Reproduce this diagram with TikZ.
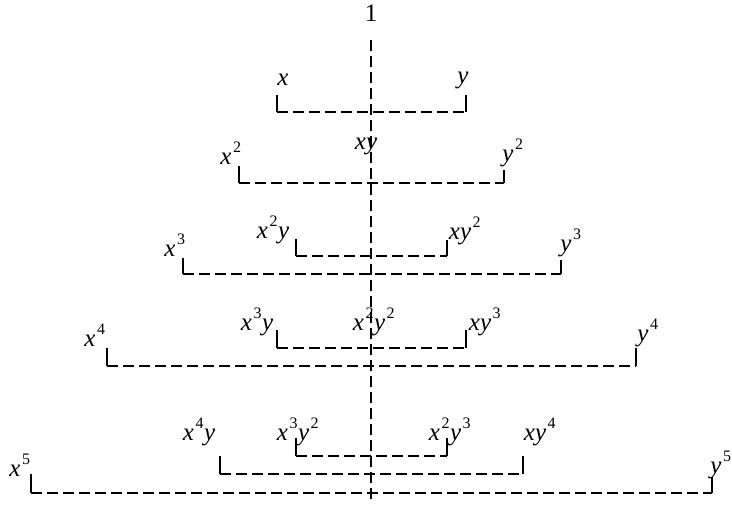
\documentclass[tikz,border=0pt]{standalone}
\usepackage{fontspec}
\setmainfont{Liberation Serif}
\newcommand\ex[1]{\kern1.5pt\raisebox{0.48em}{\fontsize{16pt}{16pt}\selectfont\upshape #1}\kern0.5pt}
\tikzset{
  lbl/.style={inner sep=0pt, font=\fontsize{25pt}{27pt}\selectfont\itshape},
  dl/.style={line width=1.6pt, dash pattern=on 11pt off 5pt},
  tk/.style={line width=1.6pt},
}
\begin{document}
\begin{tikzpicture}[x=1pt,y=-1pt]
\useasboundingbox (0,0) rectangle (732,506);
% labels
\node[lbl] (one) at (371,13) {\upshape 1};
\node[lbl] (x1) at (283,80) {x};
\node[lbl] (y1) at (463,80) {y};
\node[lbl] (x2) at (231,153) {x\ex{2}};
\node[lbl] (xy) at (366,146) {xy};
\node[lbl] (y2) at (513,153) {y\ex{2}};
\node[lbl] (x3) at (175,245) {x\ex{3}};
\node[lbl] (x2y) at (273,230) {x\ex{2}y};
\node[lbl] (xy2) at (465,231) {xy\ex{2}};
\node[lbl] (y3) at (571,243) {y\ex{3}};
\node[lbl] (x4) at (95,335) {x\ex{4}};
\node[lbl] (x3y) at (257,322) {x\ex{3}y};
\node[lbl] (x2y2) at (374,322) {x\ex{2}y\ex{2}};
\node[lbl] (xy3) at (485,322) {xy\ex{3}};
\node[lbl] (y4) at (648,333) {y\ex{4}};
\node[lbl] (x5) at (20,465) {x\ex{5}};
\node[lbl] (x4y) at (199,432) {x\ex{4}y};
\node[lbl] (x3y2) at (298,432) {x\ex{3}y\ex{2}};
\node[lbl] (x2y3) at (450,432) {x\ex{2}y\ex{3}};
\node[lbl] (xy4) at (540,432) {xy\ex{4}};
\node[lbl] (y5) at (721,465) {y\ex{5}};
% central axis
\coordinate (ctop) at (371,40);
\coordinate (cbot) at (371,502);
\draw[dl] (ctop) -- (cbot);
% brackets: left x, right x, left tick top, right tick top, bottom y
\foreach \xl/\xr/\tl/\tr/\yb in {
  277/466/95/95/112,
  239/504/166/170/183,
  296/447/239/240/256,
  183/561/258/260/274,
  277/466/330/330/348,
  107/636/348/348/366,
  296/447/438/438/456,
  220/523/456/456/474,
  31/712/474/477/493}{
  \draw[tk] (\xl,\tl) -- (\xl,\yb);
  \draw[tk] (\xr,\tr) -- (\xr,\yb);
  \draw[dl] (\xl,\yb) -- (\xr,\yb);
}
\end{tikzpicture}
\end{document}
